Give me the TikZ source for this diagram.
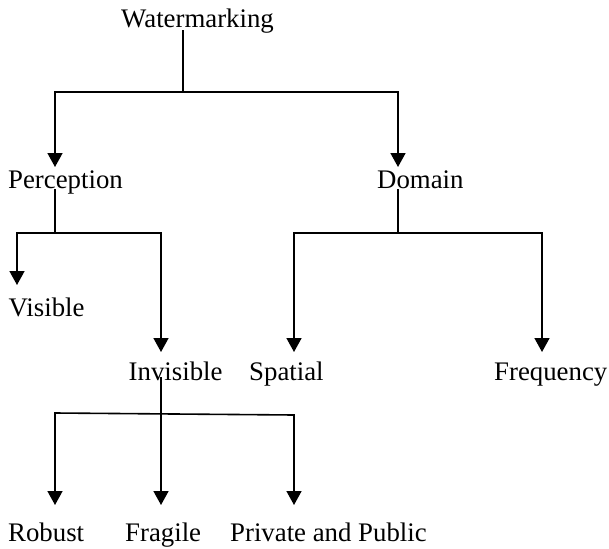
\documentclass[tikz,border=0pt]{standalone}
\usepackage{fontspec}
\setmainfont{Liberation Serif}
\usetikzlibrary{arrows.meta}
\tikzset{
  lbl/.style={anchor=base west, inner sep=0pt, font=\fontsize{26.8}{32}\selectfont},
  conn/.style={line width=1.6pt, line cap=rect},
  arr/.style={line width=1.6pt, -{Triangle[width=15pt,length=14pt]}}
}
\begin{document}
\begin{tikzpicture}[x=1pt,y=1pt]
\useasboundingbox (0,0) rectangle (609,-548);
% labels
\node[lbl] (wm)   at (121,-28)  {Watermarking};
\node[lbl] (perc) at (8,-188)   {Perception};
\node[lbl] (dom)  at (377,-188) {Domain};
\node[lbl] (vis)  at (8.5,-316) {Visible};
\node[lbl] (inv)  at (128.5,-380) {Invisible};
\node[lbl] (spa)  at (249,-380) {Spatial};
\node[lbl] (fre)  at (494,-380) {Frequency};
\node[lbl] (rob)  at (8,-541)   {Robust};
\node[lbl] (fra)  at (125,-541) {Fragile};
\node[lbl] (pp)   at (230,-541) {Private and Public};
% junction points
\coordinate (wmS) at (183,-31);
\coordinate (wmJ) at (183,-92);
\coordinate (aL)  at (55,-92);
\coordinate (aR)  at (398,-92);
\coordinate (percT) at (55,-167);
\coordinate (domT)  at (398,-167);
\coordinate (percS) at (55,-190);
\coordinate (percJ) at (55,-233);
\coordinate (bL) at (17,-233);
\coordinate (bR) at (161,-233);
\coordinate (visT) at (17,-285);
\coordinate (invT) at (161,-352);
\coordinate (domS) at (398,-190);
\coordinate (domJ) at (398,-233);
\coordinate (cL) at (294,-233);
\coordinate (cR) at (542,-233);
\coordinate (spaT) at (294,-352);
\coordinate (freT) at (542,-352);
\coordinate (invS) at (161,-377);
\coordinate (dL) at (55,-413);
\coordinate (dR) at (294,-415);
\coordinate (robT) at (55,-505);
\coordinate (fraT) at (161,-505);
\coordinate (ppT)  at (294,-505);
% connectors
\draw[conn] (wmS) -- (wmJ);
\draw[conn] (aL) -- (aR);
\draw[arr] (aL) -- (percT);
\draw[arr] (aR) -- (domT);
\draw[conn] (percS) -- (percJ);
\draw[conn] (bL) -- (bR);
\draw[arr] (bL) -- (visT);
\draw[arr] (bR) -- (invT);
\draw[conn] (domS) -- (domJ);
\draw[conn] (cL) -- (cR);
\draw[arr] (cL) -- (spaT);
\draw[arr] (cR) -- (freT);
\draw[arr] (invS) -- (fraT);
\draw[conn] (dL) -- (dR);
\draw[arr] (dL) -- (robT);
\draw[arr] (dR) -- (ppT);
\end{tikzpicture}
\end{document}
